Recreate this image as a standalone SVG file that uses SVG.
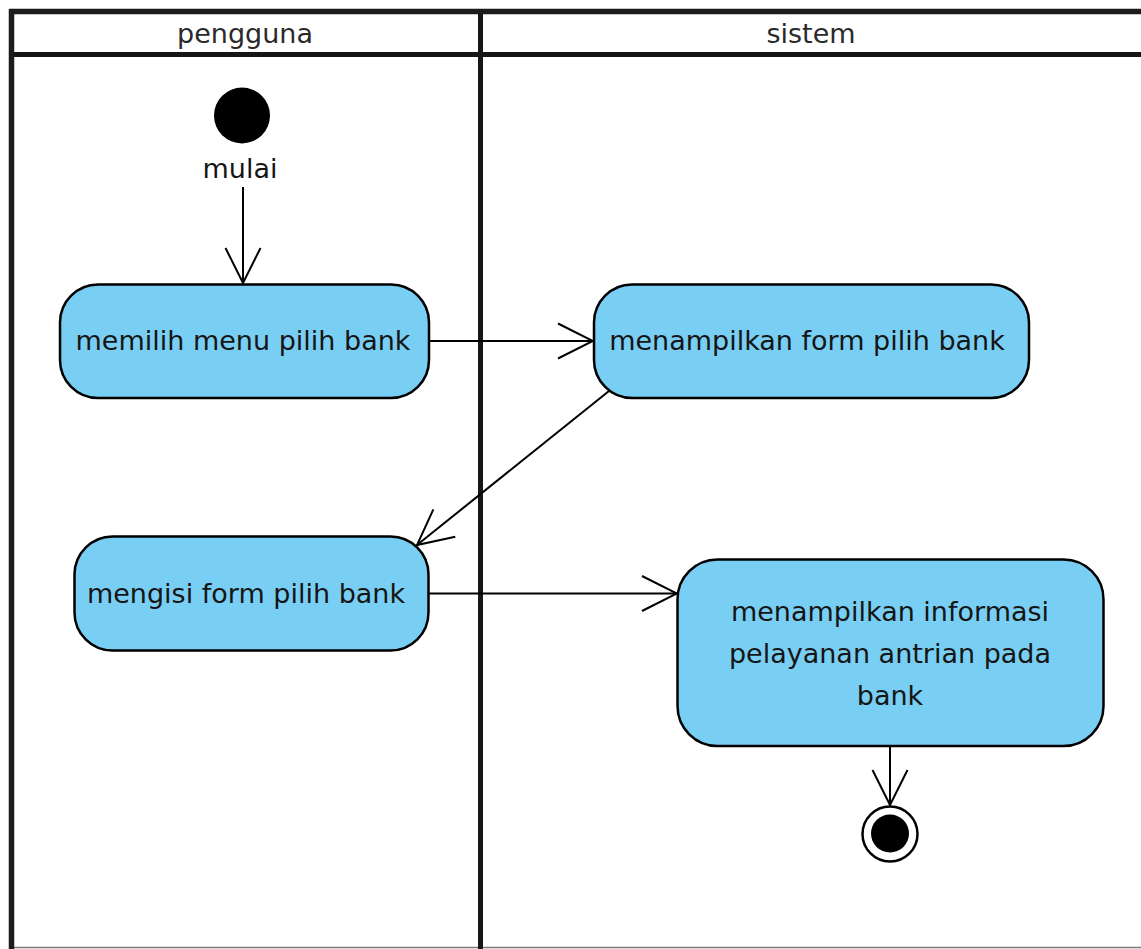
<svg xmlns="http://www.w3.org/2000/svg" width="1141" height="949" viewBox="0 0 1141 949">
<style>
  .frame { stroke: #1c1c1c; stroke-width: 5.5; fill: none; }
  .lane { stroke: #161616; stroke-width: 5; fill: none; }
  .hdr { font-family: "DejaVu Sans", Verdana, sans-serif; font-size: 27px; fill: #2a2a2a; text-anchor: middle; }
  .lbl { font-family: "DejaVu Sans", Verdana, sans-serif; font-size: 27px; fill: #151515; text-anchor: middle; }
  .act { fill: #79CEF3; stroke: #000; stroke-width: 2.5; }
  .edge { stroke: #000; stroke-width: 2; fill: none; marker-end: url(#open); }
</style>
<defs>
  <marker id="open" viewBox="-38 -20 40 40" refX="0" refY="0" markerWidth="40" markerHeight="40" markerUnits="userSpaceOnUse" orient="auto">
    <path d="M-35,-17.5 L0,0 L-35,17.5" fill="none" stroke="#000" stroke-width="2"/>
  </marker>
</defs>
<rect x="0" y="0" width="1141" height="949" fill="#fff"/>

<g id="swimlanes">
  <line x1="11.5" y1="947.5" x2="1141" y2="947.5" stroke="#777" stroke-width="1.5"/>
  <line class="lane" x1="11" y1="54.5" x2="1141" y2="54.5"/>
  <line class="lane" x1="480.5" y1="11" x2="480.5" y2="949"/>
  <line class="frame" x1="9" y1="11.5" x2="1141" y2="11.5"/>
  <line class="frame" x1="11.5" y1="9" x2="11.5" y2="949"/>
  <text class="hdr" x="245" y="43">pengguna</text>
  <text class="hdr" x="811" y="43">sistem</text>
</g>

<g id="connectors">
  <line class="edge" x1="243" y1="187" x2="243" y2="283"/>
  <line class="edge" x1="429" y1="341" x2="593" y2="341"/>
  <line class="edge" x1="609" y1="391" x2="417" y2="545"/>
  <line class="edge" x1="429" y1="593.5" x2="677" y2="593.5"/>
  <line class="edge" x1="890" y1="746" x2="890" y2="805"/>
</g>

<g id="start">
  <circle cx="242" cy="115.5" r="28" fill="#000"/>
  <text class="lbl" x="240" y="178">mulai</text>
</g>

<g id="memilih-menu">
  <rect class="act" x="60" y="284.5" width="369" height="113.5" rx="38" ry="38"/>
  <text class="lbl" x="243" y="350">memilih menu pilih bank</text>
</g>

<g id="menampilkan-form">
  <rect class="act" x="594" y="284.5" width="435" height="113.5" rx="38" ry="38"/>
  <text class="lbl" x="807" y="350">menampilkan form pilih bank</text>
</g>

<g id="mengisi-form">
  <rect class="act" x="74.5" y="536.5" width="354" height="114" rx="38" ry="38"/>
  <text class="lbl" x="246" y="603">mengisi form pilih bank</text>
</g>

<g id="menampilkan-informasi">
  <rect class="act" x="677.5" y="559.5" width="426" height="186.5" rx="40" ry="40"/>
  <text class="lbl" x="890" y="621">menampilkan informasi</text>
  <text class="lbl" x="890" y="663">pelayanan antrian pada</text>
  <text class="lbl" x="890" y="705">bank</text>
</g>

<g id="end">
  <circle cx="890" cy="834" r="27.5" fill="#fff" stroke="#000" stroke-width="2.5"/>
  <circle cx="890" cy="833.5" r="19" fill="#000"/>
</g>
</svg>
